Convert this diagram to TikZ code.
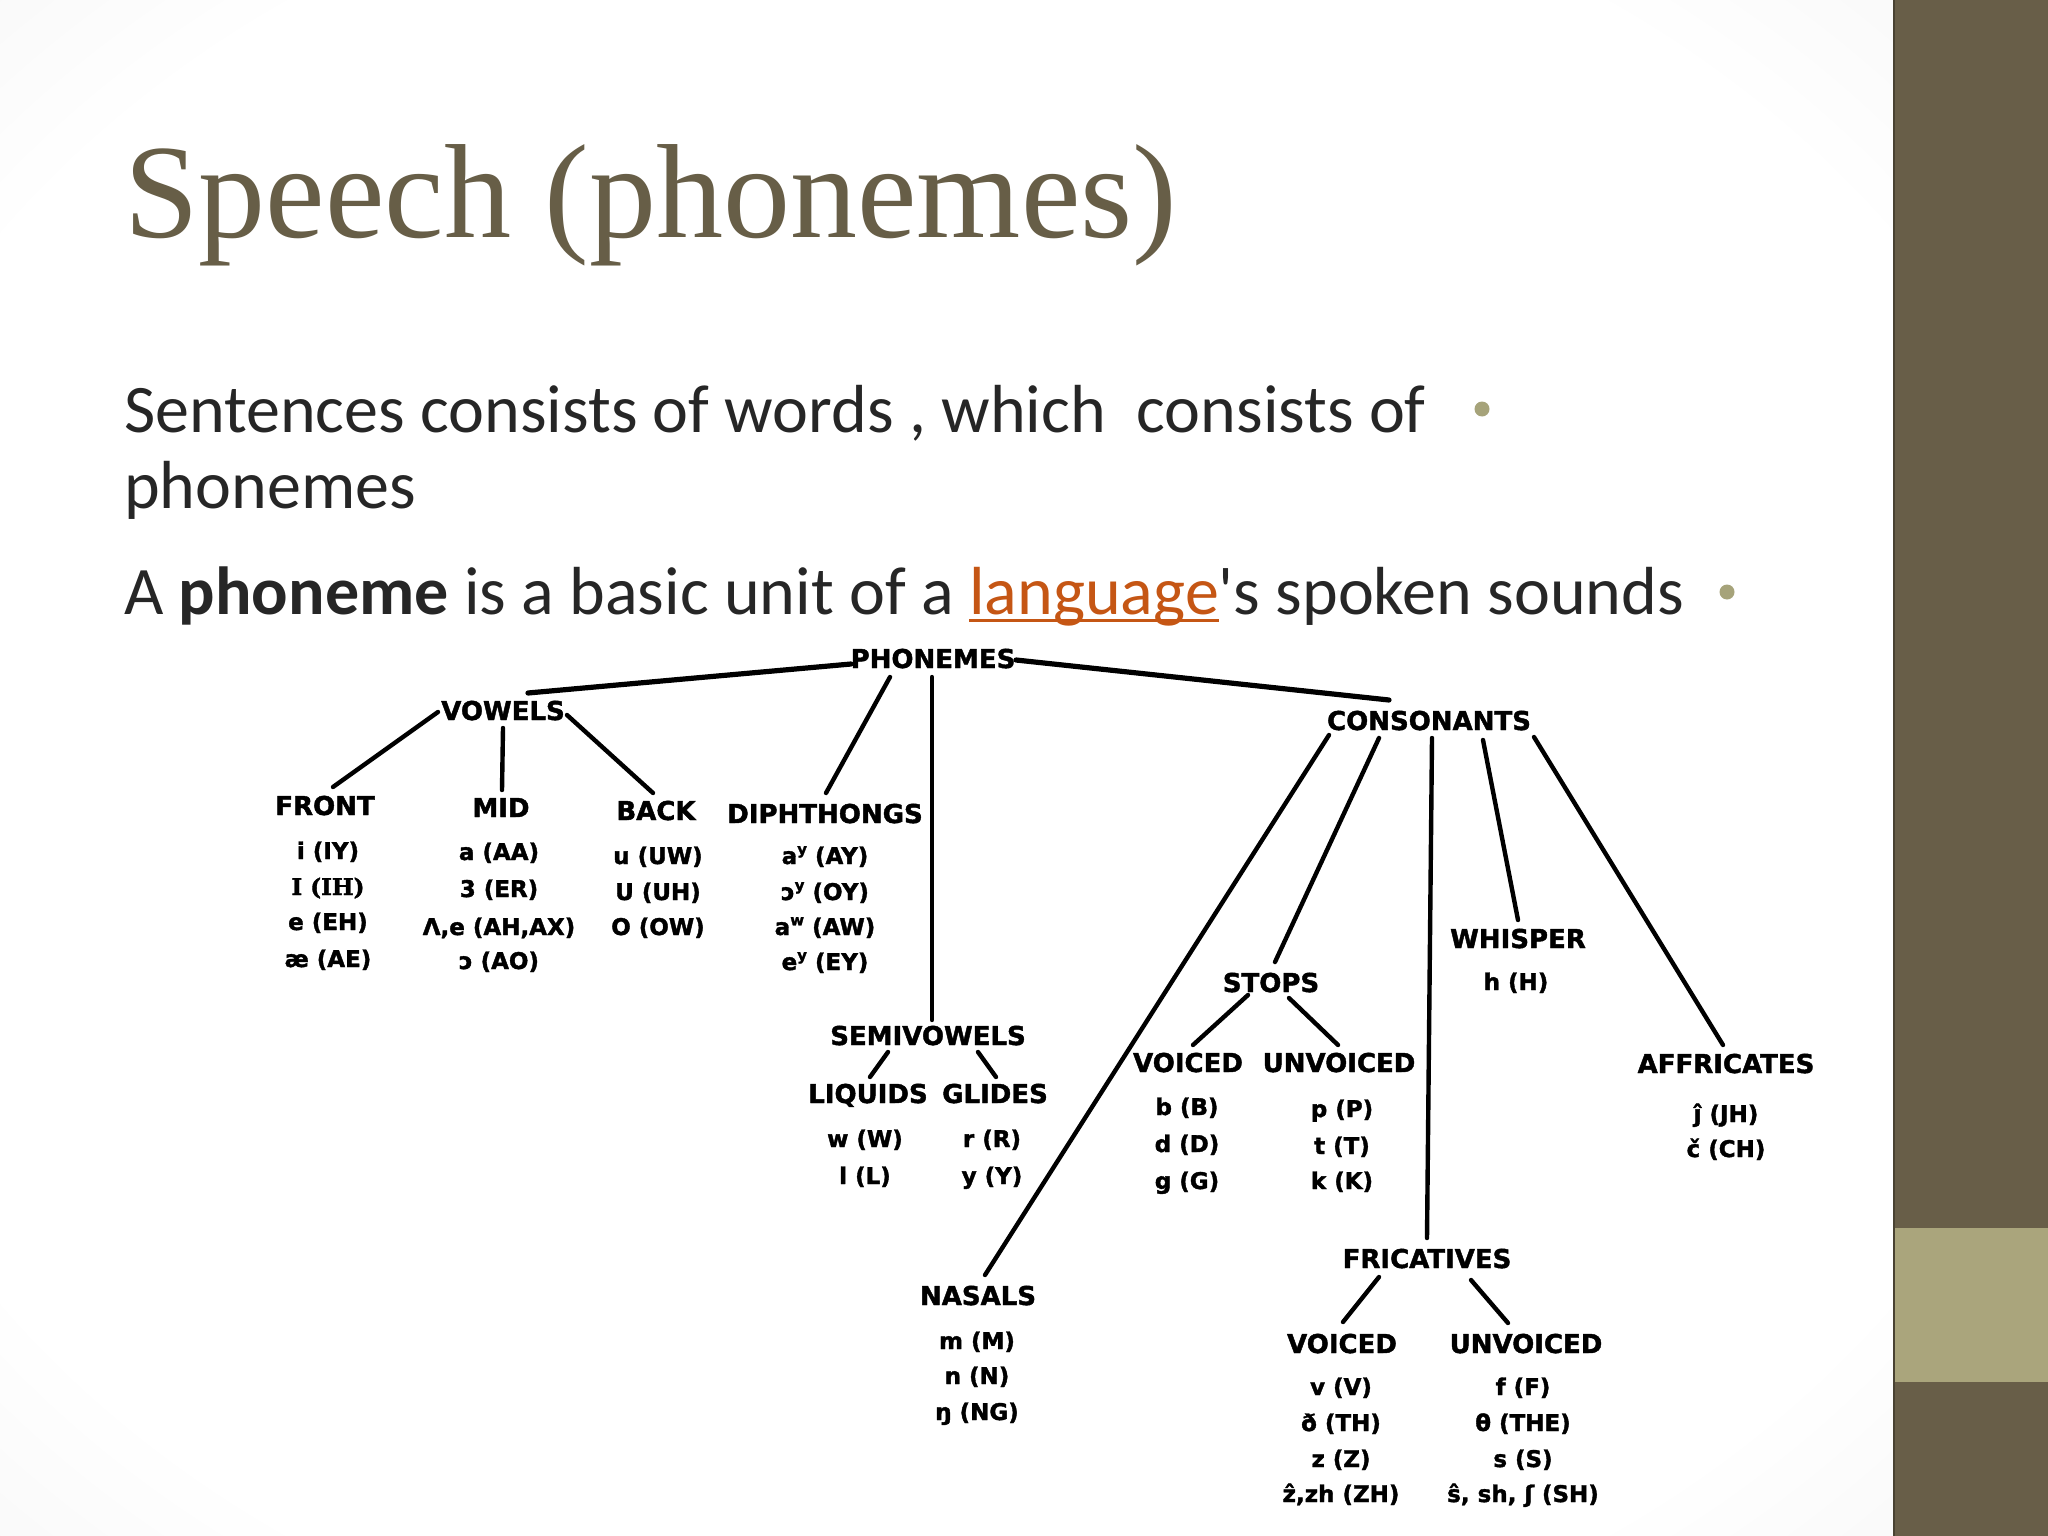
\documentclass[tikz,border=0pt]{standalone}
\usepackage{fontspec}
\usetikzlibrary{calc}
\newfontfamily\titlef{Liberation Serif}
\newfontfamily\bodyf{Carlito}
\newfontfamily\dfont{DejaVu Sans Bold}[FakeBold=1.6]
\newfontfamily\dserif{DejaVu Serif Bold}[FakeBold=1.6]
\definecolor{titlec}{RGB}{103,94,71}
\definecolor{panel}{RGB}{104,94,72}
\definecolor{band}{RGB}{170,165,124}
\definecolor{bulletc}{RGB}{166,163,122}
\definecolor{bodyc}{RGB}{38,38,38}
\definecolor{linkc}{RGB}{197,86,20}
\newcommand{\myul}[1]{\setbox0\hbox{#1}\rlap{\rule[-0.12em]{\wd0}{0.045em}}\box0}
\newcommand{\supy}[1]{\raisebox{0.42em}{\fontsize{15}{15}\selectfont #1}}
\pgfdeclareradialshading{slidebg}{\pgfpoint{0bp}{0bp}}{color(0bp)=(white); color(30bp)=(white); color(72bp)=(black!17)}
\tikzset{
  hd/.style={font=\dfont\fontsize{26}{26}\selectfont, inner sep=0pt, anchor=base},
  it/.style={font=\dfont\fontsize{23}{23}\selectfont, inner sep=0pt, anchor=base},
  conn/.style={line width=4.4pt, line cap=round},
  top/.style={line width=5.2pt, line cap=round},
  body/.style={font=\bodyf\fontsize{68}{68}\selectfont, text=bodyc, inner sep=0pt, anchor=base west},
  dot/.style={circle, fill=bulletc, inner sep=0pt, minimum size=15pt},
}
\begin{document}
\begin{tikzpicture}[x=1pt,y=-1pt]
\useasboundingbox (0,0) rectangle (2048,1536);
\shade[shading=slidebg] (0,0) rectangle (1894,1536);
\fill[panel] (1894,0) rectangle (2048,1536);
\fill[band] (1894,1228) rectangle (2048,1382);
\draw[panel!70!black, line width=1.5pt] (1894,0) -- (1894,1536);

% title and text
\node[font=\titlef\fontsize{134}{134}\selectfont, text=titlec, inner sep=0pt, anchor=base west] (title) at (124,237) {Speech (phonemes)};
\node[body] (l1) at (124,432) {Sentences consists of words , which\ \ consists of};
\node[body] (l2) at (124,508) {phonemes};
\node[body] (l3) at (124,614) {A \textbf{phoneme} is a basic unit of a {\color{linkc}\myul{language}}'s spoken sounds};
\node[dot] (b1) at (1482,409) {};
\node[dot] (b2) at (1727,592) {};

% headings
\node[hd] (phon) at (933,668) {PHONEMES};
\node[hd] (vow) at (503,720) {VOWELS};
\node[hd] (cons) at (1429,730) {CONSONANTS};
\node[hd] (front) at (325,815) {FRONT};
\node[hd] (mid) at (501,817) {MID};
\node[hd] (back) at (656,820) {BACK};
\node[hd] (diph) at (825,823) {DIPHTHONGS};
\node[hd] (semi) at (928,1045) {SEMIVOWELS};
\node[hd] (liq) at (868,1103) {LIQUIDS};
\node[hd] (gli) at (995,1103) {GLIDES};
\node[hd] (stops) at (1271,992) {STOPS};
\node[hd] (sv) at (1188,1072) {VOICED};
\node[hd] (su) at (1339,1072) {UNVOICED};
\node[hd] (whis) at (1518,948) {WHISPER};
\node[hd] (aff) at (1726,1073) {AFFRICATES};
\node[hd] (nas) at (978,1305) {NASALS};
\node[hd] (fric) at (1427,1268) {FRICATIVES};
\node[hd] (fv) at (1342,1353) {VOICED};
\node[hd] (fu) at (1526,1353) {UNVOICED};

% items
\node[it] (fr1) at (328,859) {i (IY)};
\node[it] (fr2) at (328,895) {{\dserif I (IH)}};
\node[it] (fr3) at (328,930) {e (EH)};
\node[it] (fr4) at (328,967) {æ (AE)};
\node[it] (mi1) at (499,860) {a (AA)};
\node[it] (mi2) at (499,897) {3 (ER)};
\node[it] (mi3) at (499,935) {Λ,e (AH,AX)};
\node[it] (mi4) at (499,969) {ɔ (AO)};
\node[it] (ba1) at (658,864) {u (UW)};
\node[it] (ba2) at (658,900) {U (UH)};
\node[it] (ba3) at (658,935) {O (OW)};
\node[it] (di1) at (825,864) {a\supy{y} (AY)};
\node[it] (di2) at (825,900) {ɔ\supy{y} (OY)};
\node[it] (di3) at (825,935) {a\supy{w} (AW)};
\node[it] (di4) at (825,970) {e\supy{y} (EY)};
\node[it] (lq1) at (865,1147) {w (W)};
\node[it] (lq2) at (865,1184) {l (L)};
\node[it] (gl1) at (992,1147) {r (R)};
\node[it] (gl2) at (992,1184) {y (Y)};
\node[it] (sv1) at (1187,1115) {b (B)};
\node[it] (sv2) at (1187,1152) {d (D)};
\node[it] (sv3) at (1187,1189) {g (G)};
\node[it] (su1) at (1342,1117) {p (P)};
\node[it] (su2) at (1342,1154) {t (T)};
\node[it] (su3) at (1342,1189) {k (K)};
\node[it] (wh1) at (1516,990) {h (H)};
\node[it] (af1) at (1726,1122) {ĵ (JH)};
\node[it] (af2) at (1726,1157) {č (CH)};
\node[it] (na1) at (977,1349) {m (M)};
\node[it] (na2) at (977,1384) {n (N)};
\node[it] (na3) at (977,1420) {ŋ (NG)};
\node[it] (fv1) at (1341,1395) {v (V)};
\node[it] (fv2) at (1341,1431) {ð (TH)};
\node[it] (fv3) at (1341,1467) {z (Z)};
\node[it] (fv4) at (1341,1502) {ẑ,zh (ZH)};
\node[it] (fu1) at (1523,1395) {f (F)};
\node[it] (fu2) at (1523,1431) {θ (THE)};
\node[it] (fu3) at (1523,1467) {s (S)};
\node[it] (fu4) at (1523,1502) {ŝ, sh, ʃ (SH)};

% connectors
\draw[top] ($(phon.base)+(-82,-4)$) -- ($(vow.base)+(25,-27)$);
\draw[top] ($(phon.base)+(83,-8)$) -- ($(cons.base)+(-40,-30)$);
\draw[conn] ($(phon.base)+(-43,9)$) -- ($(diph.base)+(1,-30)$);
\draw[conn] ($(phon.base)+(-1,9)$) -- ($(semi.base)+(4,-25)$);
\draw[conn] ($(vow.base)+(-65,-8)$) -- ($(front.base)+(8,-28)$);
\draw[conn] ($(vow.base)+(0,8)$) -- ($(mid.base)+(1,-27)$);
\draw[conn] ($(vow.base)+(64,-5)$) -- ($(back.base)+(-3,-27)$);
\draw[conn] ($(cons.base)+(-100,5)$) -- ($(nas.base)+(7,-30)$);
\draw[conn] ($(cons.base)+(-50,8)$) -- ($(stops.base)+(4,-30)$);
\draw[conn] ($(cons.base)+(3,8)$) -- ($(fric.base)+(0,-30)$);
\draw[conn] ($(cons.base)+(54,10)$) -- ($(whis.base)+(0,-28)$);
\draw[conn] ($(cons.base)+(105,7)$) -- ($(aff.base)+(-3,-28)$);
\draw[conn] ($(stops.base)+(-23,3)$) -- ($(sv.base)+(5,-27)$);
\draw[conn] ($(stops.base)+(18,6)$) -- ($(su.base)+(-1,-27)$);
\draw[conn] ($(semi.base)+(-40,7)$) -- ($(liq.base)+(2,-26)$);
\draw[conn] ($(semi.base)+(50,7)$) -- ($(gli.base)+(1,-26)$);
\draw[conn] ($(fric.base)+(-48,9)$) -- ($(fv.base)+(1,-31)$);
\draw[conn] ($(fric.base)+(44,12)$) -- ($(fu.base)+(-18,-30)$);
\end{tikzpicture}
\end{document}
